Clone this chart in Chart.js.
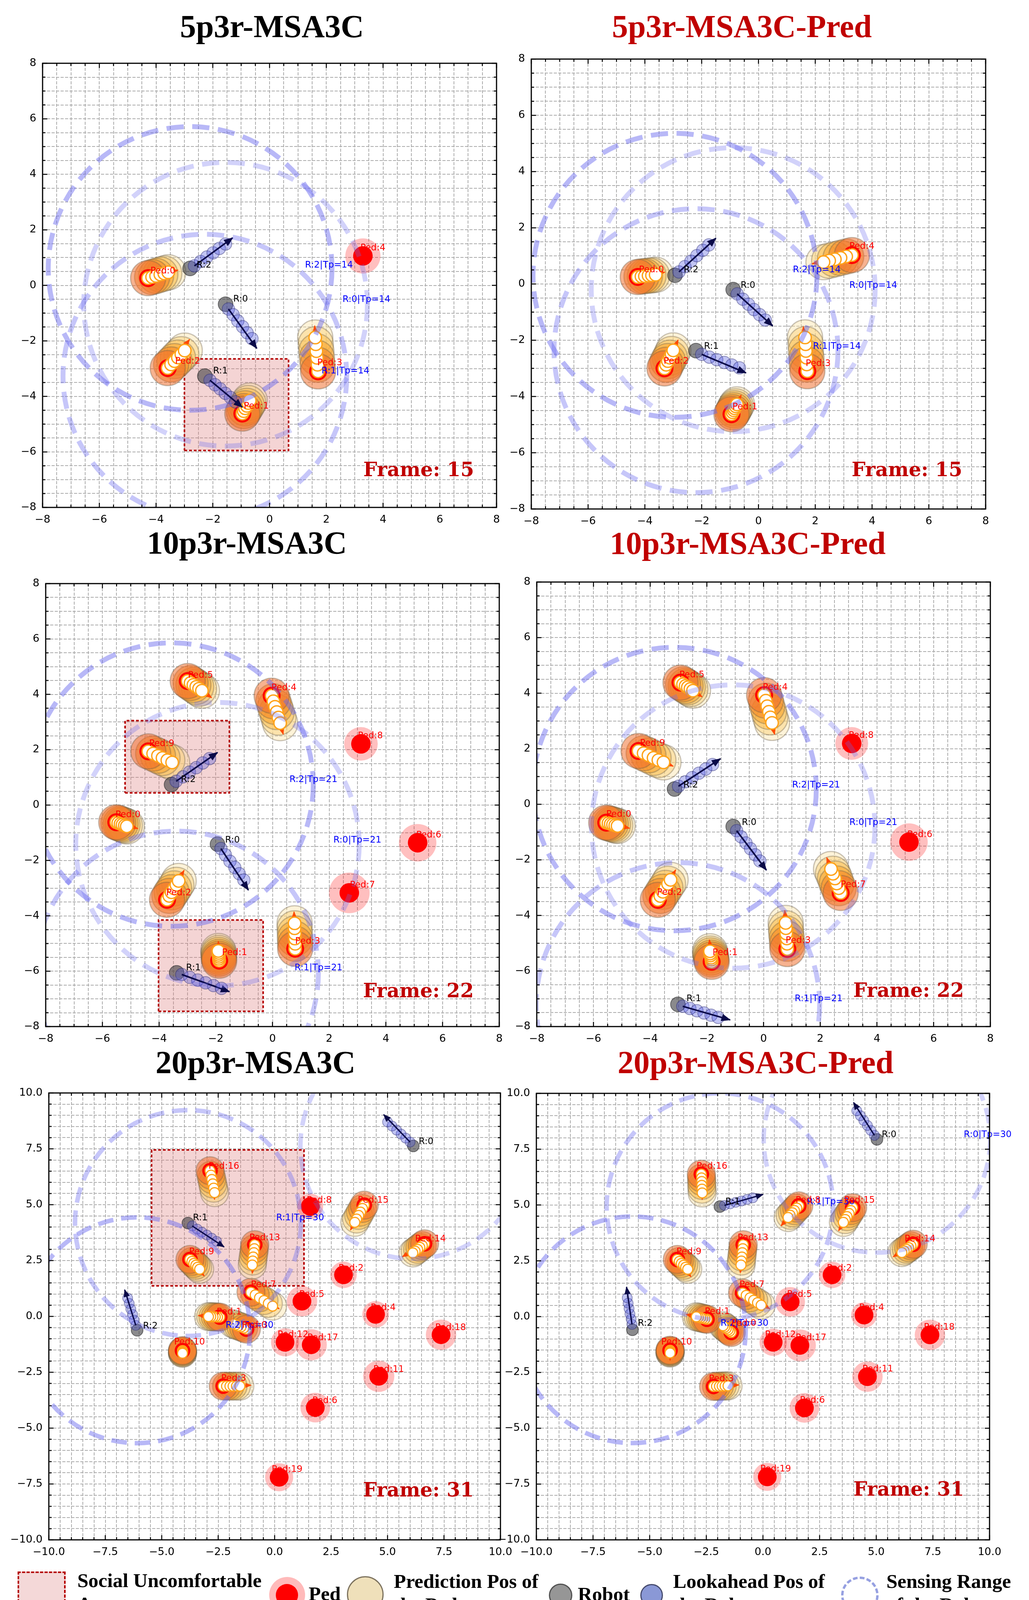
<!DOCTYPE html>
<html><head><meta charset="utf-8">
<script src="https://cdn.jsdelivr.net/npm/chart.js@4/dist/chart.umd.min.js"></script>
<style>
html,body{margin:0;padding:0;background:#fff;}
body{width:2634px;height:4166px;position:relative;overflow:hidden;}
canvas{position:absolute;}
.ttl{position:absolute;font-family:"Liberation Serif","Times New Roman",serif;font-weight:bold;font-size:82px;line-height:1;white-space:nowrap;transform:translateX(-50%);}
.lt{position:absolute;font-family:"Liberation Serif","Times New Roman",serif;font-weight:bold;font-size:51px;line-height:60px;white-space:nowrap;color:#000;}
.ic{position:absolute;box-sizing:border-box;border-radius:50%;}
</style></head>
<body>
<div class="ttl" style="left:696px;top:27px;color:#000">5p3r-MSA3C</div>
<div class="ttl" style="left:1899px;top:27px;color:#c00000">5p3r-MSA3C-Pred</div>
<div class="ttl" style="left:632px;top:1349px;color:#000">10p3r-MSA3C</div>
<div class="ttl" style="left:1914px;top:1350px;color:#c00000">10p3r-MSA3C-Pred</div>
<div class="ttl" style="left:654px;top:2679px;color:#000">20p3r-MSA3C</div>
<div class="ttl" style="left:1934px;top:2679px;color:#c00000">20p3r-MSA3C-Pred</div>

<div style="position:absolute;left:45px;top:4023px;width:123px;height:114px;box-sizing:border-box;background:rgba(236,190,190,0.6);border:4px dashed #b40000;"></div>
<div class="lt" style="left:198px;top:4016px">Social Uncomfortable<br>Area</div>
<div class="ic" style="left:689px;top:4037px;width:92px;height:92px;background:rgba(255,0,0,0.27);"></div>
<div class="ic" style="left:706px;top:4055px;width:57px;height:57px;background:#ff0000;"></div>
<div class="lt" style="left:790px;top:4050px">Ped</div>
<div class="ic" style="left:888px;top:4035px;width:94px;height:94px;background:rgb(239,224,186);border:3px solid rgb(125,115,95);"></div>
<div class="lt" style="left:1008px;top:4018px">Prediction Pos of<br>the Ped</div>
<div class="ic" style="left:1405px;top:4054px;width:60px;height:60px;background:rgb(150,150,150);border:3px solid rgb(80,80,80);"></div>
<div class="lt" style="left:1479px;top:4051px">Robot</div>
<div class="ic" style="left:1639px;top:4055px;width:58px;height:58px;background:rgb(138,152,214);border:3px solid rgb(70,75,110);"></div>
<div class="lt" style="left:1723px;top:4018px">Lookahead Pos of<br>the Robot</div>
<div class="ic" style="left:2153px;top:4036px;width:96px;height:96px;border:6px dashed rgb(150,160,225);"></div>
<div class="lt" style="left:2269px;top:4018px">Sensing Range<br>of the Robot</div>

<script>
// ---------------- tick labels ----------------
const ticks16 = [-8,-6,-4,-2,0,2,4,6,8];
const ticks20 = [-10,-7.5,-5,-2.5,0,2.5,5,7.5,10];

// ---------------- Panel 1 : 5p3r-MSA3C ----------------
const p1PedNames = ['Ped:0','Ped:1','Ped:2','Ped:3','Ped:4'];
const p1PedPos = [[-4.28,0.26],[-0.96,-4.62],[-3.59,-2.98],[1.71,-3.10],[3.29,1.06]];
const p1PedPred = [
 [[-4.28,0.26],[-4.14,0.30],[-4.00,0.34],[-3.85,0.39],[-3.71,0.43],[-3.57,0.47]],
 [[-0.96,-4.62],[-0.91,-4.53],[-0.86,-4.43],[-0.80,-4.34],[-0.75,-4.24],[-0.70,-4.15]],
 [[-3.59,-2.98],[-3.47,-2.85],[-3.35,-2.73],[-3.23,-2.60],[-3.11,-2.48],[-2.99,-2.35]],
 [[1.71,-3.10],[1.69,-2.86],[1.67,-2.61],[1.65,-2.37],[1.63,-2.12],[1.61,-1.88]],
 null];
const p1PedTip = [[-3.23,0.55],[-0.59,-3.98],[-2.82,-1.95],[1.59,-1.46],null];
const p1PedHalo = [0,0,0,0,45];
const p1PedLabelPos = [[-4.2,0.52],[-0.91,-4.35],[-3.33,-2.74],[1.68,-2.8],[3.2,1.34]];
const p1RobotNames = ['R:0','R:1','R:2'];
const p1RobotPos = [[-1.55,-0.68],[-2.28,-3.27],[-2.80,0.61]];
const p1RobotLook = [
 [[-1.45,-0.85],[-1.28,-1.06],[-1.12,-1.28],[-0.95,-1.49],[-0.79,-1.71],[-0.62,-1.92]],
 [[-2.10,-3.42],[-1.92,-3.58],[-1.74,-3.73],[-1.56,-3.89],[-1.38,-4.04],[-1.20,-4.20]],
 [[-2.65,0.70],[-2.43,0.86],[-2.21,1.02],[-1.99,1.17],[-1.77,1.33],[-1.55,1.49]]];
const p1RobotTip = [[-0.45,-2.27],[-0.96,-4.39],[-1.30,1.71]];
const p1RobotLabelPos = [[-1.28,-0.5],[-1.99,-3.09],[-2.57,0.73]];
const p1TpText = ['R:0|Tp=14','R:1|Tp=14','R:2|Tp=14'];
const p1TpPos = [[2.57,-0.51],[1.83,-3.09],[1.25,0.73]];
const p1Areas = [[-3.0,0.67,-5.95,-2.65]];
const p1Frame = 'Frame: 15';
const p1FramePos = [7.21,-6.88];

// ---------------- Panel 2 : 5p3r-MSA3C-Pred ----------------
const p2PedNames = ['Ped:0','Ped:1','Ped:2','Ped:3','Ped:4'];
const p2PedPos = [[-4.25,0.25],[-0.95,-4.63],[-3.31,-3.00],[1.72,-3.10],[3.29,1.03]];
const p2PedPred = [
 [[-4.25,0.25],[-4.12,0.27],[-4.00,0.28],[-3.87,0.30],[-3.75,0.31],[-3.62,0.33]],
 [[-0.95,-4.63],[-0.91,-4.56],[-0.87,-4.49],[-0.84,-4.42],[-0.80,-4.35],[-0.76,-4.28]],
 [[-3.31,-3.00],[-3.25,-2.87],[-3.19,-2.74],[-3.12,-2.62],[-3.06,-2.49],[-3.00,-2.36]],
 [[1.72,-3.10],[1.70,-2.86],[1.69,-2.62],[1.67,-2.38],[1.66,-2.14],[1.64,-1.90]],
 [[3.29,1.03],[3.09,0.98],[2.89,0.93],[2.69,0.88],[2.49,0.83],[2.29,0.78]]];
const p2PedTip = [[-3.30,0.42],[-0.61,-3.95],[-2.83,-1.99],[1.58,-1.52],[1.89,0.72]];
const p2PedHalo = [0,0,0,0,0];
const p2PedLabelPos = [[-4.21,0.5],[-0.92,-4.37],[-3.34,-2.75],[1.66,-2.83],[3.2,1.33]];
const p2RobotNames = ['R:0','R:1','R:2'];
const p2RobotPos = [[-0.89,-0.20],[-2.20,-2.37],[-2.94,0.31]];
const p2RobotLook = [
 [[-0.75,-0.35],[-0.55,-0.54],[-0.35,-0.72],[-0.16,-0.91],[0.04,-1.09],[0.24,-1.28]],
 [[-2.00,-2.50],[-1.73,-2.60],[-1.47,-2.69],[-1.20,-2.79],[-0.94,-2.88],[-0.67,-2.98]],
 [[-2.80,0.43],[-2.59,0.62],[-2.38,0.81],[-2.17,1.01],[-1.96,1.20],[-1.75,1.39]]];
const p2RobotTip = [[0.50,-1.49],[-0.44,-3.16],[-1.50,1.63]];
const p2RobotLabelPos = [[-0.63,-0.05],[-1.92,-2.22],[-2.63,0.5]];
const p2TpText = ['R:0|Tp=14','R:1|Tp=14','R:2|Tp=14'];
const p2TpPos = [[3.2,-0.05],[1.92,-2.22],[1.21,0.5]];
const p2Areas = [];
const p2Frame = 'Frame: 15';
const p2FramePos = [7.18,-6.83];

// ---------------- Panel 3 : 10p3r-MSA3C ----------------
const p3PedNames = ['Ped:0','Ped:1','Ped:2','Ped:3','Ped:4','Ped:5','Ped:6','Ped:7','Ped:8','Ped:9'];
const p3PedPos = [[-5.51,-0.62],[-1.88,-5.62],[-3.72,-3.42],[0.80,-5.19],[-0.03,3.95],[-2.99,4.48],[5.12,-1.36],[2.71,-3.17],[3.12,2.21],[-4.38,1.94]];
const p3PedPred = [
 [[-5.51,-0.62],[-5.44,-0.65],[-5.36,-0.68],[-5.29,-0.71],[-5.21,-0.74],[-5.14,-0.77]],
 [[-1.88,-5.62],[-1.89,-5.55],[-1.89,-5.48],[-1.90,-5.41],[-1.90,-5.34],[-1.91,-5.27]],
 [[-3.72,-3.42],[-3.64,-3.28],[-3.56,-3.15],[-3.47,-3.01],[-3.39,-2.88],[-3.31,-2.74]],
 [[0.80,-5.19],[0.80,-5.01],[0.79,-4.82],[0.79,-4.64],[0.78,-4.45],[0.78,-4.27]],
 [[-0.03,3.95],[0.03,3.75],[0.09,3.55],[0.15,3.36],[0.21,3.16],[0.27,2.96]],
 [[-2.99,4.48],[-2.89,4.41],[-2.79,4.34],[-2.69,4.27],[-2.59,4.20],[-2.49,4.13]],
 null, null, null,
 [[-4.38,1.94],[-4.21,1.86],[-4.04,1.78],[-3.88,1.70],[-3.71,1.62],[-3.54,1.54]]];
const p3PedTip = [[-4.75,-0.85],[-1.91,-4.92],[-3.12,-2.36],[0.76,-3.86],[0.38,2.56],[-2.15,3.88],null,null,null,[-3.36,1.44]];
const p3PedHalo = [0,0,0,0,0,0,48,52,43,0];
const p3PedLabelPos = [[-5.54,-0.36],[-1.78,-5.33],[-3.75,-3.17],[0.8,-4.92],[-0.04,4.23],[-2.98,4.68],[5.07,-1.09],[2.73,-2.89],[3.01,2.49],[-4.35,2.21]];
const p3RobotNames = ['R:0','R:1','R:2'];
const p3RobotPos = [[-1.94,-1.41],[-3.38,-6.06],[-3.56,0.74]];
const p3RobotLook = [
 [[-1.82,-1.57],[-1.66,-1.80],[-1.50,-2.03],[-1.33,-2.25],[-1.17,-2.48],[-1.01,-2.71]],
 [[-3.20,-6.12],[-2.92,-6.22],[-2.64,-6.32],[-2.36,-6.42],[-2.08,-6.52],[-1.80,-6.62]],
 [[-3.40,0.86],[-3.16,1.02],[-2.93,1.19],[-2.69,1.35],[-2.46,1.52],[-2.22,1.68]]];
const p3RobotTip = [[-0.85,-3.07],[-1.52,-6.74],[-1.94,1.90]];
const p3RobotLabelPos = [[-1.67,-1.27],[-3.05,-5.88],[-3.23,0.91]];
const p3TpText = ['R:0|Tp=21','R:1|Tp=21','R:2|Tp=21'];
const p3TpPos = [[2.15,-1.27],[0.78,-5.88],[0.6,0.91]];
const p3Areas = [[-5.2,-1.52,0.44,3.05],[-4.02,-0.33,-7.45,-4.15]];
const p3Frame = 'Frame: 22';
const p3FramePos = [7.1,-6.94];

// ---------------- Panel 4 : 10p3r-MSA3C-Pred ----------------
const p4PedNames = ['Ped:0','Ped:1','Ped:2','Ped:3','Ped:4','Ped:5','Ped:6','Ped:7','Ped:8','Ped:9'];
const p4PedPos = [[-5.55,-0.66],[-1.83,-5.67],[-3.73,-3.44],[0.84,-5.21],[0.02,3.93],[-2.93,4.38],[5.13,-1.36],[2.72,-3.19],[3.11,2.19],[-4.41,1.92]];
const p4PedPred = [
 [[-5.55,-0.66],[-5.47,-0.68],[-5.39,-0.71],[-5.31,-0.73],[-5.23,-0.76],[-5.15,-0.78]],
 [[-1.83,-5.67],[-1.84,-5.59],[-1.85,-5.52],[-1.87,-5.44],[-1.88,-5.37],[-1.89,-5.29]],
 [[-3.73,-3.44],[-3.64,-3.30],[-3.55,-3.15],[-3.46,-3.01],[-3.37,-2.86],[-3.28,-2.72]],
 [[0.84,-5.21],[0.83,-5.02],[0.82,-4.83],[0.80,-4.65],[0.79,-4.46],[0.78,-4.27]],
 [[0.02,3.93],[0.08,3.73],[0.13,3.53],[0.19,3.33],[0.24,3.13],[0.30,2.93]],
 [[-2.93,4.38],[-2.84,4.32],[-2.75,4.26],[-2.67,4.21],[-2.58,4.15],[-2.49,4.09]],
 null,
 [[2.72,-3.19],[2.65,-3.02],[2.58,-2.85],[2.52,-2.67],[2.45,-2.50],[2.38,-2.33]],
 null,
 [[-4.41,1.92],[-4.23,1.84],[-4.06,1.76],[-3.88,1.67],[-3.71,1.59],[-3.53,1.51]]];
const p4PedTip = [[-4.73,-0.86],[-1.91,-4.88],[-3.10,-2.36],[0.75,-3.82],[0.39,2.52],[-2.17,3.87],null,[2.23,-1.92],null,[-3.19,1.37]];
const p4PedHalo = [0,0,0,0,0,0,48,0,42,0];
const p4PedLabelPos = [[-5.55,-0.37],[-1.8,-5.35],[-3.76,-3.18],[0.78,-4.91],[-0.03,4.21],[-2.97,4.65],[5.07,-1.1],[2.72,-2.9],[3.0,2.47],[-4.36,2.19]];
const p4RobotNames = ['R:0','R:1','R:2'];
const p4RobotPos = [[-1.07,-0.80],[-3.02,-7.20],[-3.14,0.55]];
const p4RobotLook = [
 [[-0.95,-0.95],[-0.79,-1.17],[-0.62,-1.39],[-0.46,-1.60],[-0.29,-1.82],[-0.13,-2.04]],
 [[-2.85,-7.27],[-2.60,-7.35],[-2.35,-7.43],[-2.10,-7.51],[-1.85,-7.59],[-1.60,-7.67]],
 [[-3.00,0.65],[-2.76,0.81],[-2.52,0.96],[-2.28,1.12],[-2.04,1.27],[-1.80,1.43]]];
const p4RobotTip = [[0.10,-2.37],[-1.18,-7.76],[-1.52,1.64]];
const p4RobotLabelPos = [[-0.77,-0.66],[-2.72,-7.0],[-2.83,0.69]];
const p4TpText = ['R:0|Tp=21','R:1|Tp=21','R:2|Tp=21'];
const p4TpPos = [[3.03,-0.66],[1.1,-7.0],[1.01,0.69]];
const p4Areas = [];
const p4Frame = 'Frame: 22';
const p4FramePos = [7.07,-6.93];

// ---------------- Panel 5 : 20p3r-MSA3C ----------------
const p5PedNames = ['Ped:0','Ped:1','Ped:2','Ped:3','Ped:4','Ped:5','Ped:6','Ped:7','Ped:8','Ped:9','Ped:10','Ped:11','Ped:12','Ped:13','Ped:14','Ped:15','Ped:16','Ped:17','Ped:18','Ped:19'];
const p5PedPos = [[-1.25,-0.57],[-2.43,-0.03],[3.05,1.86],[-2.28,-3.12],[4.47,0.09],[1.21,0.68],[1.80,-4.08],[-1.05,1.08],[1.58,4.92],[-3.75,2.55],[-4.08,-1.53],[4.61,-2.68],[0.46,-1.16],[-0.88,3.21],[6.64,3.25],[3.97,4.98],[-2.86,6.52],[1.62,-1.27],[7.37,-0.82],[0.20,-7.20]];
const p5PedPred = [
 [[-1.25,-0.57],[-1.37,-0.52],[-1.49,-0.47],[-1.61,-0.43],[-1.73,-0.38],[-1.85,-0.33]],
 [[-2.43,-0.03],[-2.53,-0.03],[-2.63,-0.02],[-2.73,-0.02],[-2.83,-0.01],[-2.93,-0.01]],
 null,
 [[-2.28,-3.12],[-2.13,-3.12],[-1.98,-3.12],[-1.84,-3.12],[-1.69,-3.12],[-1.54,-3.12]],
 null, null, null,
 [[-1.05,1.08],[-0.86,0.96],[-0.67,0.83],[-0.47,0.71],[-0.28,0.58],[-0.09,0.46]],
 null,
 [[-3.75,2.55],[-3.66,2.46],[-3.58,2.37],[-3.49,2.29],[-3.41,2.20],[-3.32,2.11]],
 [[-4.08,-1.53],[-4.08,-1.55],[-4.08,-1.58],[-4.08,-1.60],[-4.08,-1.63],[-4.08,-1.65]],
 null, null,
 [[-0.88,3.21],[-0.90,3.03],[-0.92,2.85],[-0.95,2.66],[-0.97,2.48],[-0.99,2.30]],
 [[6.64,3.25],[6.54,3.17],[6.43,3.09],[6.33,3.00],[6.22,2.92],[6.12,2.84]],
 [[3.97,4.98],[3.89,4.83],[3.80,4.67],[3.72,4.52],[3.63,4.36],[3.55,4.21]],
 [[-2.86,6.52],[-2.82,6.32],[-2.78,6.13],[-2.74,5.93],[-2.70,5.74],[-2.66,5.54]],
 null, null, null];
const p5PedTip = [[-2.15,-0.22],[-3.38,0.04],null,[-1.05,-3.08],null,null,null,[0.20,0.34],null,[-3.12,1.81],[-4.08,-1.90],null,null,[-0.99,1.93],[5.66,2.67],[3.36,3.87],[-2.66,5.24],null,null,null];
const p5PedHalo = [0,0,34,0,34,39,38,0,33,0,0,40,36,0,0,0,0,40,39,36];
const p5PedLabelPos = [[-1.45,-0.4],[-2.57,0.19],[2.83,2.15],[-2.37,-2.78],[4.25,0.38],[1.09,0.97],[1.67,-3.78],[-1.05,1.41],[1.42,5.2],[-3.79,2.89],[-4.45,-1.16],[4.37,-2.37],[0.13,-0.82],[-1.12,3.52],[6.22,3.46],[3.68,5.2],[-2.93,6.72],[1.45,-0.97],[7.11,-0.5],[-0.13,-6.86]];
const p5RobotNames = ['R:0','R:1','R:2'];
const p5RobotPos = [[6.14,7.63],[-3.84,4.18],[-6.09,-0.62]];
const p5RobotLook = [
 [[6.00,7.80],[5.80,7.98],[5.60,8.16],[5.40,8.34],[5.20,8.52],[5.00,8.70]],
 [[-3.65,4.05],[-3.43,3.91],[-3.22,3.77],[-3.00,3.64],[-2.79,3.50],[-2.57,3.36]],
 [[-6.15,-0.40],[-6.22,-0.16],[-6.29,0.09],[-6.37,0.33],[-6.44,0.58],[-6.51,0.82]]];
const p5RobotTip = [[4.83,9.03],[-2.24,3.11],[-6.64,1.19]];
const p5RobotLabelPos = [[6.38,7.82],[-3.62,4.4],[-5.83,-0.43]];
const p5TpText = ['R:1|Tp=30','R:2|Tp=30'];
const p5TpPos = [[0.07,4.4],[-2.17,-0.4]];
const p5Areas = [[-5.45,1.30,1.37,7.45]];
const p5Frame = 'Frame: 31';
const p5FramePos = [8.82,-8.06];

// ---------------- Panel 6 : 20p3r-MSA3C-Pred ----------------
const p6PedNames = ['Ped:0','Ped:1','Ped:2','Ped:3','Ped:4','Ped:5','Ped:6','Ped:7','Ped:8','Ped:9','Ped:10','Ped:11','Ped:12','Ped:13','Ped:14','Ped:15','Ped:16','Ped:17','Ped:18','Ped:19'];
const p6PedPos = [[-1.40,-0.71],[-2.47,-0.12],[3.05,1.87],[-2.18,-3.13],[4.46,0.07],[1.20,0.66],[1.83,-4.09],[-0.90,1.06],[1.58,4.96],[-3.78,2.56],[-4.10,-1.51],[4.61,-2.69],[0.45,-1.15],[-0.87,3.22],[6.63,3.24],[3.96,4.88],[-2.72,6.38],[1.63,-1.29],[7.37,-0.82],[0.19,-7.18]];
const p6PedPred = [
 [[-1.40,-0.71],[-1.47,-0.65],[-1.54,-0.59],[-1.62,-0.53],[-1.69,-0.47],[-1.76,-0.41]],
 [[-2.47,-0.12],[-2.56,-0.10],[-2.66,-0.08],[-2.75,-0.05],[-2.85,-0.03],[-2.94,-0.01]],
 null,
 [[-2.18,-3.13],[-2.05,-3.12],[-1.92,-3.12],[-1.80,-3.11],[-1.67,-3.11],[-1.54,-3.10]],
 null, null, null,
 [[-0.90,1.06],[-0.74,0.95],[-0.57,0.84],[-0.41,0.73],[-0.24,0.62],[-0.08,0.51]],
 [[1.58,4.96],[1.49,4.86],[1.39,4.75],[1.30,4.65],[1.20,4.54],[1.11,4.44]],
 [[-3.78,2.56],[-3.69,2.47],[-3.60,2.38],[-3.50,2.30],[-3.41,2.21],[-3.32,2.12]],
 [[-4.10,-1.51],[-4.10,-1.53],[-4.10,-1.56],[-4.10,-1.58],[-4.10,-1.61],[-4.10,-1.63]],
 null, null,
 [[-0.87,3.22],[-0.89,3.04],[-0.91,2.86],[-0.93,2.67],[-0.95,2.49],[-0.97,2.31]],
 [[6.63,3.24],[6.53,3.17],[6.43,3.09],[6.33,3.02],[6.23,2.94],[6.13,2.87]],
 [[3.96,4.88],[3.88,4.75],[3.80,4.62],[3.71,4.48],[3.63,4.35],[3.55,4.22]],
 [[-2.72,6.38],[-2.71,6.21],[-2.70,6.05],[-2.70,5.88],[-2.69,5.71],[-2.68,5.54]],
 null, null, null];
const p6PedTip = [[-2.00,-0.25],[-3.39,0.10],null,[-1.07,-3.06],null,null,null,[0.30,0.35],[0.80,4.07],[-3.18,1.79],[-4.10,-1.96],null,null,[-1.00,1.97],[5.75,2.68],[3.34,3.85],[-2.68,5.25],null,null,null];
const p6PedHalo = [0,0,34,0,33,38,38,0,0,0,0,39,35,0,0,0,0,41,39,36];
const p6PedLabelPos = [[-1.4,-0.31],[-2.57,0.21],[2.82,2.16],[-2.39,-2.79],[4.24,0.4],[1.06,0.99],[1.63,-3.76],[-1.04,1.43],[1.44,5.21],[-3.82,2.9],[-4.49,-1.15],[4.39,-2.35],[0.09,-0.81],[-1.12,3.53],[6.25,3.47],[3.58,5.21],[-2.93,6.72],[1.44,-0.96],[7.1,-0.49],[-0.12,-6.84]];
const p6RobotNames = ['R:0','R:1','R:2'];
const p6RobotPos = [[5.03,7.94],[-1.90,4.93],[-5.76,-0.59]];
const p6RobotLook = [
 [[4.92,8.12],[4.76,8.34],[4.61,8.56],[4.45,8.78],[4.30,9.00],[4.14,9.22]],
 [[-1.70,4.98],[-1.45,5.05],[-1.20,5.12],[-0.95,5.18],[-0.70,5.25],[-0.45,5.32]],
 [[-5.78,-0.35],[-5.82,-0.11],[-5.87,0.12],[-5.91,0.36],[-5.95,0.60],[-5.99,0.84]]];
const p6RobotTip = [[4.00,9.59],[0.00,5.47],[-6.02,1.32]];
const p6RobotLabelPos = [[5.24,8.15],[-1.66,5.13],[-5.52,-0.31]];
const p6TpText = ['R:0|Tp=30','R:1|Tp=30','R:2|Tp=30'];
const p6TpPos = [[8.86,8.15],[1.94,5.13],[-1.87,-0.31]];
const p6Areas = [];
const p6Frame = 'Frame: 31';
const p6FramePos = [8.88,-8.03];

const SENSE_RADIUS = 5;
const SENSE_ALPHA = [0.30, 0.38, 0.47];

// ---------------- styling ----------------
const ORANGE = ['rgba(240,108,40,0.52)','rgba(245,132,34,0.50)','rgba(248,158,38,0.48)','rgba(250,183,68,0.45)','rgba(251,204,110,0.42)','rgba(250,224,160,0.40)'];
const STYLE_A = {dotR:23, haloDotR:25, whiteBW:3.5, pedHead:[19,7.5], robHead:[24,9.5], robW:4, senseW:12.5, dash:[44,22]};
const STYLE_B = {dotR:20, haloDotR:24, whiteBW:3, pedHead:[16,6.5], robHead:[20,8], robW:3.5, senseW:11.5, dash:[40,20]};

const XY = a => a.map(p => ({x:p[0], y:p[1]}));

function buildDatasets(S, st) {
  const ds = [];
  const ppu = ctx => { const s = ctx.chart.scales.x; return Math.abs(s.getPixelForValue(1) - s.getPixelForValue(0)); };
  const R = r => ctx => r * ppu(ctx);
  S.areas.forEach(a => ds.push({type:'line', data:XY([[a[0],a[2]],[a[1],a[2]],[a[1],a[3]],[a[0],a[3]],[a[0],a[2]]]),
    borderColor:'#b40000', borderWidth:4, borderDash:[7,5], backgroundColor:'rgba(222,120,120,0.32)', fill:'shape', pointRadius:0, tension:0}));
  S.pedPos.forEach((pos, i) => {
    const pred = S.pedPred[i];
    if (!pred) {
      ds.push({type:'scatter', data:XY([pos]), pointRadius:S.pedHalo[i], pointBackgroundColor:'rgba(255,0,0,0.25)', pointBorderWidth:0});
      ds.push({type:'scatter', data:XY([pos]), pointRadius:st.haloDotR, pointBackgroundColor:'#ff0000', pointBorderWidth:0});
      return;
    }
    ds.push({type:'scatter', data:XY(pred.slice().reverse()), pointRadius:R(0.62), pointBackgroundColor:ORANGE.slice().reverse(),
      pointBorderColor:'rgba(105,92,70,0.35)', pointBorderWidth:3});
    ds.push({type:'scatter', data:XY([pos]), pointRadius:st.dotR, pointBackgroundColor:'#ff0000', pointBorderWidth:0});
    ds.push({type:'line', data:XY([pos, S.pedTip[i]]), borderColor:'rgba(255,72,0,0.9)', borderWidth:3, pointRadius:0,
      head:{len:st.pedHead[0], w:st.pedHead[1], color:'rgba(255,72,0,0.95)'}});
    ds.push({type:'scatter', data:XY(pred), pointRadius:R(0.22), pointBackgroundColor:'#ffffff', pointBorderColor:'#ffa31a', pointBorderWidth:st.whiteBW});
  });
  S.robotPos.forEach((pos, i) => {
    ds.push({type:'scatter', data:XY([pos]), pointRadius:R(0.26), pointBackgroundColor:'rgba(60,60,64,0.6)', pointBorderColor:'rgba(30,30,30,0.55)', pointBorderWidth:2});
    ds.push({type:'scatter', data:XY(S.robotLook[i]), pointRadius:R(0.22), pointBackgroundColor:'rgba(70,80,222,0.33)', pointBorderColor:'rgba(40,40,110,0.45)', pointBorderWidth:2});
    ds.push({type:'line', data:XY([S.robotLook[i][0], S.robotTip[i]]), borderColor:'#0a0a48', borderWidth:st.robW, pointRadius:0,
      head:{len:st.robHead[0], w:st.robHead[1], color:'#0a0a48'}});
  });
  S.robotPos.forEach((pos, i) => {
    ds.push({type:'scatter', data:XY([pos]), pointRadius:R(SENSE_RADIUS), pointBackgroundColor:'rgba(0,0,0,0)',
      pointBorderColor:'rgba(105,105,238,' + SENSE_ALPHA[i] + ')', pointBorderWidth:st.senseW, dash:st.dash});
  });
  ds.forEach((d, i) => { d.order = ds.length - i; });
  return ds;
}

const dashHead = {
  id:'dashHead',
  beforeDatasetDraw(chart, args) {
    const d = chart.data.datasets[args.index];
    if (d.dash) { chart.ctx.save(); chart.ctx.setLineDash(d.dash); }
  },
  afterDatasetDraw(chart, args) {
    const d = chart.data.datasets[args.index];
    const ctx = chart.ctx;
    if (d.dash) ctx.restore();
    if (d.head) {
      const pts = args.meta.data;
      const a = pts[pts.length - 2], b = pts[pts.length - 1];
      const dx = b.x - a.x, dy = b.y - a.y, L = Math.hypot(dx, dy) || 1;
      const ux = dx / L, uy = dy / L;
      const tx = b.x + ux * 2, ty = b.y + uy * 2;
      const bx = tx - ux * d.head.len, by = ty - uy * d.head.len;
      ctx.save();
      ctx.fillStyle = d.head.color;
      ctx.beginPath();
      ctx.moveTo(tx, ty);
      ctx.lineTo(bx - uy * d.head.w, by + ux * d.head.w);
      ctx.lineTo(bx + uy * d.head.w, by - ux * d.head.w);
      ctx.closePath();
      ctx.fill();
      ctx.restore();
    }
  }
};

const frameTicks = {
  id:'frameTicks',
  afterDraw(chart) {
    const {ctx, chartArea:a, scales:{x, y}} = chart;
    ctx.save();
    ctx.setLineDash([]);
    ctx.strokeStyle = '#000';
    ctx.lineWidth = 2.5;
    ctx.beginPath();
    x.ticks.forEach(t => {
      const px = x.getPixelForValue(t.value), L = t.label !== '' ? 12 : 7;
      ctx.moveTo(px, a.bottom); ctx.lineTo(px, a.bottom - L);
      ctx.moveTo(px, a.top); ctx.lineTo(px, a.top + L);
    });
    y.ticks.forEach(t => {
      const py = y.getPixelForValue(t.value), L = t.label !== '' ? 12 : 7;
      ctx.moveTo(a.left, py); ctx.lineTo(a.left + L, py);
      ctx.moveTo(a.right, py); ctx.lineTo(a.right - L, py);
    });
    ctx.stroke();
    ctx.lineWidth = 3;
    ctx.strokeRect(a.left, a.top, a.right - a.left, a.bottom - a.top);
    ctx.restore();
  }
};

function textPlugin(S) {
  return {
    id:'txt',
    afterDatasetsDraw(chart) {
      const {ctx, scales:{x, y}} = chart;
      ctx.save();
      ctx.font = '23px "DejaVu Sans"';
      ctx.textBaseline = 'middle';
      ctx.textAlign = 'left';
      const put = (t, p, c) => { ctx.fillStyle = c; ctx.fillText(t, x.getPixelForValue(p[0]), y.getPixelForValue(p[1])); };
      S.robotNames.forEach((n, i) => put(n, S.robotLabelPos[i], '#000000'));
      S.tpText.forEach((n, i) => put(n, S.tpPos[i], '#0000ff'));
      S.pedNames.forEach((n, i) => put(n, S.pedLabelPos[i], '#ff0000'));
      ctx.font = 'bold 50px "DejaVu Serif"';
      ctx.textAlign = 'right';
      ctx.textBaseline = 'alphabetic';
      ctx.fillStyle = '#c00000';
      ctx.fillText(S.frame, x.getPixelForValue(S.framePos[0]), y.getPixelForValue(S.framePos[1]));
      ctx.restore();
    }
  };
}

const fmt16 = v => (v < 0 ? '\u2212' : '') + Math.abs(v);
const fmt20 = v => (v < 0 ? '\u2212' : '') + Math.abs(v).toFixed(1);

function scaleCfg(axis, lim, major, fmt) {
  return {
    type:'linear', position: axis === 'x' ? 'bottom' : 'left', min:lim[0], max:lim[1],
    afterBuildTicks: s => { const t = []; for (let k = lim[0] * 2; k <= lim[1] * 2; k++) t.push({value:k / 2}); s.ticks = t; },
    afterFit: s => { if (axis === 'x') s.height = 60; else s.width = 100; },
    grid: {color:'#acacac', lineWidth:2, drawTicks:false},
    border: {display:false, dash:[8,3.5]},
    ticks: {autoSkip:false, maxRotation:0, minRotation:0, padding:16, color:'#000',
      font:{family:'DejaVu Sans', size:27}, callback: v => major.includes(v) ? fmt(v) : ''}
  };
}

function mount(geom, S, st, lim, major, fmt) {
  const c = document.createElement('canvas');
  c.width = geom[2] + 180; c.height = geom[3] + 90;
  c.style.left = (geom[0] - 100) + 'px'; c.style.top = (geom[1] - 30) + 'px';
  c.style.width = c.width + 'px'; c.style.height = c.height + 'px';
  document.body.appendChild(c);
  new Chart(c, {
    type:'scatter',
    data:{datasets: buildDatasets(S, st)},
    options:{
      responsive:false, maintainAspectRatio:false, animation:false, devicePixelRatio:1, events:[],
      layout:{padding:{left:0, top:30, right:80, bottom:0}},
      plugins:{legend:{display:false}, tooltip:{enabled:false}, title:{display:false}},
      scales:{x: scaleCfg('x', lim, major, fmt), y: scaleCfg('y', lim, major, fmt)}
    },
    plugins:[dashHead, textPlugin(S), frameTicks]
  });
}

function panel(names, pos, pred, tip, halo, lpos, rn, rpos, look, rtip, rlpos, tpt, tpp, areas, frame, fpos) {
  return {pedNames:names, pedPos:pos, pedPred:pred, pedTip:tip, pedHalo:halo, pedLabelPos:lpos,
    robotNames:rn, robotPos:rpos, robotLook:look, robotTip:rtip, robotLabelPos:rlpos,
    tpText:tpt, tpPos:tpp, areas:areas, frame:frame, framePos:fpos};
}

mount([109,147,1162,1152], panel(p1PedNames,p1PedPos,p1PedPred,p1PedTip,p1PedHalo,p1PedLabelPos,p1RobotNames,p1RobotPos,p1RobotLook,p1RobotTip,p1RobotLabelPos,p1TpText,p1TpPos,p1Areas,p1Frame,p1FramePos), STYLE_A, [-8,8], ticks16, fmt16);
mount([1360,149,1163,1154], panel(p2PedNames,p2PedPos,p2PedPred,p2PedTip,p2PedHalo,p2PedLabelPos,p2RobotNames,p2RobotPos,p2RobotLook,p2RobotTip,p2RobotLabelPos,p2TpText,p2TpPos,p2Areas,p2Frame,p2FramePos), STYLE_A, [-8,8], ticks16, fmt16);
mount([117,1472,1161,1156], panel(p3PedNames,p3PedPos,p3PedPred,p3PedTip,p3PedHalo,p3PedLabelPos,p3RobotNames,p3RobotPos,p3RobotLook,p3RobotTip,p3RobotLabelPos,p3TpText,p3TpPos,p3Areas,p3Frame,p3FramePos), STYLE_A, [-8,8], ticks16, fmt16);
mount([1374,1472,1161,1156], panel(p4PedNames,p4PedPos,p4PedPred,p4PedTip,p4PedHalo,p4PedLabelPos,p4RobotNames,p4RobotPos,p4RobotLook,p4RobotTip,p4RobotLabelPos,p4TpText,p4TpPos,p4Areas,p4Frame,p4FramePos), STYLE_A, [-8,8], ticks16, fmt16);
mount([125,2788,1156,1154], panel(p5PedNames,p5PedPos,p5PedPred,p5PedTip,p5PedHalo,p5PedLabelPos,p5RobotNames,p5RobotPos,p5RobotLook,p5RobotTip,p5RobotLabelPos,p5TpText,p5TpPos,p5Areas,p5Frame,p5FramePos), STYLE_B, [-10,10], ticks20, fmt20);
mount([1373,2788,1160,1154], panel(p6PedNames,p6PedPos,p6PedPred,p6PedTip,p6PedHalo,p6PedLabelPos,p6RobotNames,p6RobotPos,p6RobotLook,p6RobotTip,p6RobotLabelPos,p6TpText,p6TpPos,p6Areas,p6Frame,p6FramePos), STYLE_B, [-10,10], ticks20, fmt20);
</script>
</body></html>
